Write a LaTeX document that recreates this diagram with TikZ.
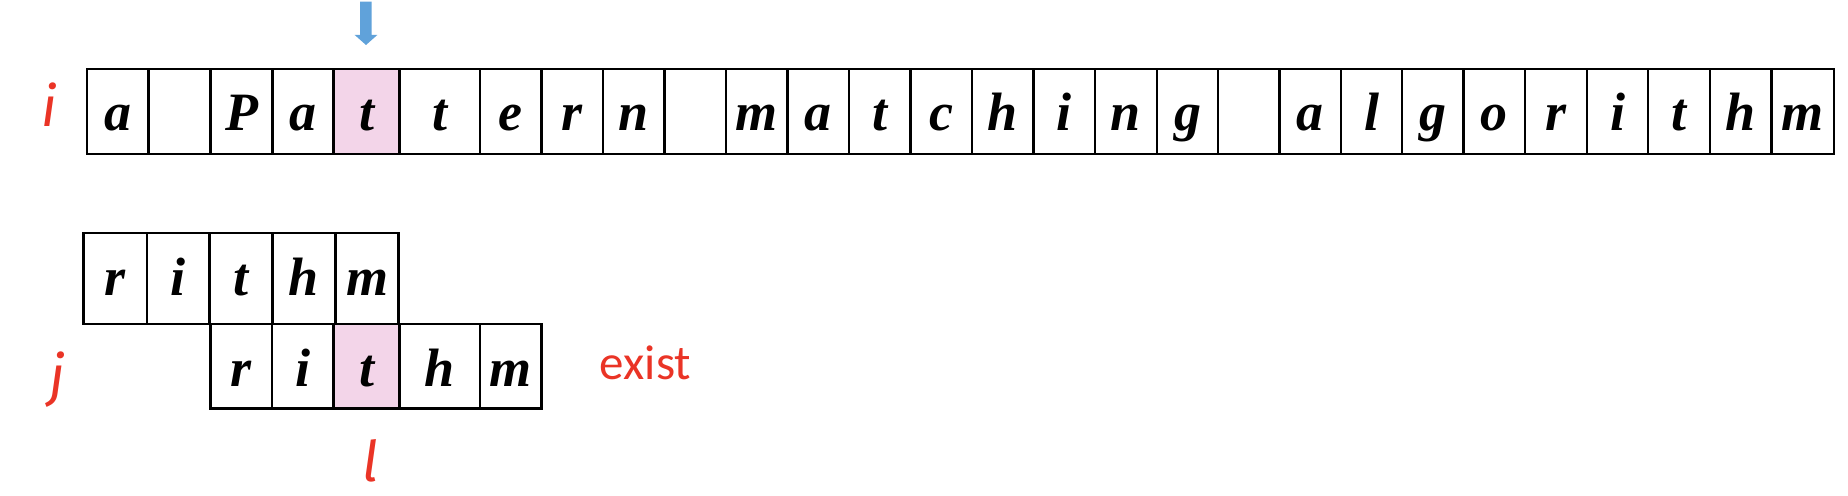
\documentclass[tikz,border=0pt]{standalone}
\usepackage{fontspec}
\setmainfont{Liberation Serif}
\newfontfamily\lblfont{Carlito}
\newfontfamily\idxfont{Fira Sans}
\definecolor{hlpink}{RGB}{243,213,233}
\definecolor{lblred}{RGB}{234,52,38}
\definecolor{arrowblue}{RGB}{96,162,218}
\begin{document}
\begin{tikzpicture}[x=0.5pt,y=-0.5pt,
  cell/.style={draw=black, line width=1.1pt, inner sep=0pt,
    font=\fontsize{27}{27}\selectfont\bfseries\itshape},
  rowA/.style={cell, text height=30.85pt, text depth=11.5pt},
  rowB/.style={cell, text height=31.5pt, text depth=14pt},
  rowC/.style={cell, text height=30.85pt, text depth=11.2pt},
  redlbl/.style={text=lblred, inner sep=0pt, anchor=base,
    font=\idxfont\fontsize{28}{28}\selectfont\itshape},
  redtxt/.style={text=lblred, inner sep=0pt, anchor=base,
    font=\lblfont\fontsize{24.5}{24.5}\selectfont}]
\useasboundingbox (0,0) rectangle (1848,496);

% text row
\foreach \l/\r/\c/\f [count=\k] in {
  87/148.5/a/white, 148.5/210.5/{}/white, 210.5/272.5/P/white, 272.5/333.5/a/white,
  333.5/399.5/t/hlpink, 399.5/480/t/white, 480/541.5/e/white, 541.5/603/r/white,
  603/664.5/n/white, 664.5/726/{}/white, 726/787.5/m/white, 787.5/849/a/white,
  849/910.5/t/white, 910.5/972/c/white, 972/1033.5/h/white, 1033.5/1095/i/white,
  1095/1157/n/white, 1157/1218/g/white, 1218/1279.5/{}/white, 1279.5/1341/a/white,
  1341/1402/l/white, 1402/1463.5/g/white, 1463.5/1525/o/white, 1525/1587/r/white,
  1587/1648/i/white, 1648/1710/t/white, 1710/1771.5/h/white, 1771.5/1834/m/white}
  \node[rowA, fill=\f, minimum width={(\r-\l)*0.5pt}] (t\k) at ({(\l+\r)/2},111.65) {\c};

% pattern, first position
\foreach \l/\r/\c [count=\k] in {
  83.5/147/r, 147/209.5/i, 209.5/272.5/t, 272.5/335.5/h, 335.5/398.5/m}
  \node[rowB, fill=white, minimum width={(\r-\l)*0.5pt}] (p\k) at ({(\l+\r)/2},278.5) {\c};

% pattern, shifted position
\foreach \l/\r/\c/\f [count=\k] in {
  210.5/272/r/white, 272/333.5/i/white, 333.5/399.5/t/hlpink, 399.5/480/h/white, 480/541.5/m/white}
  \node[rowC, fill=\f, minimum width={(\r-\l)*0.5pt}] (q\k) at ({(\l+\r)/2},366.4) {\c};

% block arrow
\fill[arrowblue] (360,1.7) -- (371.7,1.7) -- (371.7,35) -- (377.3,35) -- (366,45)
  -- (354.7,35) -- (360,35) -- cycle;

% labels
\node[redlbl] (li) at (49,127) {i};
\node[redlbl] (lj) at (57,396) {j};
\node[redlbl] (ll) at (371,482) {l};
\node[redtxt] (ex) at (645.5,380) {exist};
\end{tikzpicture}
\end{document}
